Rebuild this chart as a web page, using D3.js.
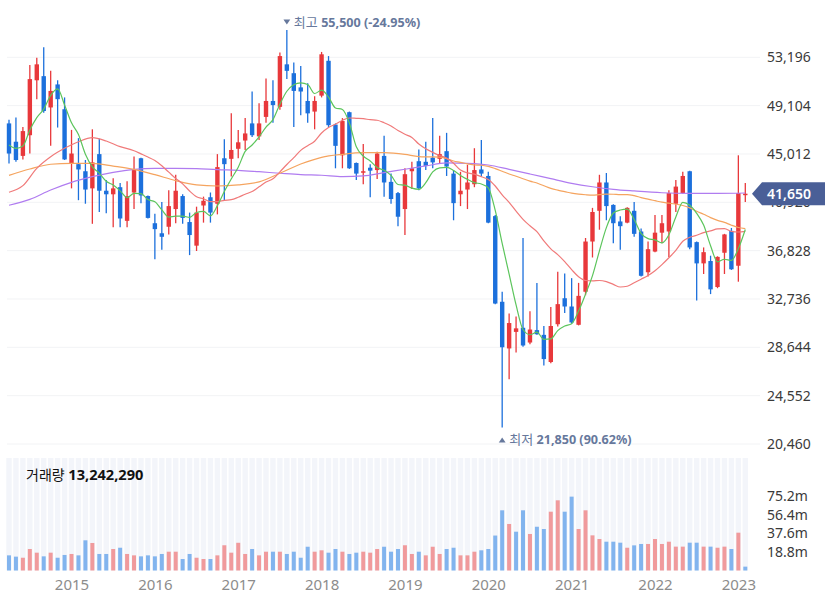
<!DOCTYPE html>
<html><head><meta charset="utf-8">
<script src="https://cdn.jsdelivr.net/npm/d3@7"></script>
<style>
html,body{margin:0;padding:0;background:#fff;}
svg{display:block;font-family:'Noto Sans','Noto Sans CJK KR',sans-serif;}
</style></head><body>
<svg id="chart" width="825" height="603"></svg>
<script>
// ---- categories: monthly candles, Apr 2014 .. Feb 2023
const months = d3.timeMonths(new Date(2014,3,1), new Date(2023,2,1));
// ---- OHLC (KRW)
const open  = [47600,46050,44850,46600,51250,51600,48950,50900,48800,44200,44150,43550,42100,45000,41900,41600,42200,39350,41750,44650,41450,39150,38300,38850,40350,41450,39250,37250,40650,41350,40800,44650,44600,45450,46150,47600,46500,48150,49500,49000,52600,51850,50650,49500,48600,49950,52900,47500,44900,48550,44250,43500,43850,43650,44850,42650,41700,40350,43550,44400,44350,44700,44600,45250,43350,41600,42000,42450,43700,43150,39750,32500,28550,29950,30300,29050,30100,29700,27400,30600,32800,32100,30550,33350,37600,40200,42600,40700,39300,39200,40200,38450,35000,36750,38350,38450,40800,41700,43550,37550,35750,35950,33750,36650,38500,35550,41550];
const high  = [47900,48100,47300,52550,53150,54050,52050,51250,49800,47050,46350,44500,47100,46300,42800,42950,42550,42700,44800,44700,41500,39950,40950,41950,43250,41600,40050,40550,41400,41750,45000,46250,48450,47050,48050,50300,49300,51400,51250,53600,55500,52750,52450,51000,49900,53650,53300,47600,48050,48600,44300,45850,44150,45200,46550,43350,41800,43800,44350,45400,46050,48050,46550,46800,43650,43500,44100,45500,46200,43500,39850,33350,31500,31250,37900,31700,34100,30450,32050,35050,34900,34500,34100,37900,40450,43250,43400,40750,39750,40500,40950,38700,37600,39850,39850,41950,42800,43500,43600,37600,37100,36400,36350,38250,38750,44900,42550];
const low   = [44200,44350,44550,45050,49650,48500,45700,47250,44500,42100,41100,40800,39100,40100,40000,38800,38800,38800,40350,40850,39550,36100,36900,38200,39150,39100,36450,36800,39200,39200,39900,41050,43100,44650,45350,46450,46200,47650,47650,48750,51350,47300,48300,47650,47100,49800,47300,43800,43800,43750,42800,42450,41350,42900,41400,40800,38900,38150,42050,41950,43650,43800,44200,43150,39400,40600,40350,42200,43100,39150,32300,21850,25950,28200,28700,28900,29700,27100,27300,30400,31550,30650,30500,33050,36250,38600,39400,37450,36900,39150,38000,34650,34650,36700,37450,36300,40100,41650,36950,32600,34850,33150,33650,34850,35200,34200,40950];
const close = [45050,44500,46950,51350,52600,48650,50350,49650,44550,45050,43700,42000,44300,41900,41600,42100,39550,41450,43650,41500,39600,38650,38000,40600,41900,39600,38150,40050,41050,40050,43900,44150,45350,46000,46750,46600,47600,49500,49150,53300,52050,50350,50300,48450,49500,53450,47450,45700,47800,43800,43350,43550,43600,45050,42600,41200,39700,43300,43800,42100,44000,44300,45000,43950,40850,41900,42600,43650,43350,39200,32350,28650,30700,30250,28800,30150,29750,27650,30450,32300,32100,30750,33000,37600,40100,42600,40600,39150,38900,40450,38250,34700,36950,38350,39150,41700,42250,43150,37100,35750,36700,33550,36300,38200,35250,41700,41650];
// ---- monthly volume (millions of shares)
const volume = [15.3,14.0,12.9,21.7,18.0,14.3,18.0,12.9,15.7,16.7,15.3,30.5,27.8,16.7,16.7,21.7,23.0,16.7,15.3,14.3,15.3,14.3,16.7,19.0,19.0,11.6,16.7,12.9,11.6,11.6,15.3,25.5,18.0,28.0,16.7,21.7,15.3,19.0,19.0,19.0,16.7,19.0,12.9,24.0,19.0,20.4,18.0,21.7,19.0,16.7,18.0,19.0,18.0,21.7,24.0,19.0,21.7,25.5,16.7,19.0,15.3,24.0,16.7,21.7,23.0,15.3,15.3,19.0,20.4,21.7,35.3,60.8,47.0,39.2,60.8,36.9,44.2,41.9,59.4,70.9,59.4,74.6,41.9,60.8,35.5,31.8,29.1,29.1,28.1,23.0,25.4,26.8,26.8,31.8,26.8,29.1,24.1,24.1,28.1,28.1,24.1,24.1,23.0,24.1,21.7,38.2,3.9];
// ---- moving-average values before enough history is in view: [index, value]
const ma5Head  = [[0,45770],[1,45490],[2,45690],[3,47040]];
const ma20Head = [[0,41770],[2,42330],[4,43800],[6,44780],[8,45490],[10,46050],[12,46390],[14,46110],[16,45630],[18,45290]];
const ma60Head = [[0,43200],[3,43740],[6,44140],[9,44220],[12,44220],[15,43990],[18,43710],[21,43260],[24,42750],[27,42390],[30,42300],[33,42390],[36,42650],[39,43380],[42,44160],[45,44730],[48,44980],[51,45120],[54,45120],[57,44980]];
const ma120Read = [[0,40670],[3,41170],[6,41960],[9,42610],[12,43090],[15,43460],[18,43710],[21,43800],[24,43800],[27,43770],[30,43680],[33,43630],[36,43510],[39,43380],[42,43260],[45,43210],[48,43090],[51,43150],[54,43430],[57,43720],[60,44000],[63,44260],[66,44220],[69,44080],[72,43710],[75,43320],[78,42920],[81,42530],[84,42240],[87,42020],[90,41880],[94,41730],[98,41680],[102,41680],[106,41710]];
// ---- tick labels
const priceTicks = [20460,24552,28644,32736,36828,40920,45012,49104,53196];
const volTicks = [18.8,37.6,56.4,75.2];
const yearTicks = [2015,2016,2017,2018,2019,2020,2021,2022,2023];
const lastPrice = 41650, highPrice = 55500, lowPrice = 21850;
const highText = ['최고','55,500 (-24.95%)'];
const lowText = ['최저','21,850 (90.62%)'];
const volText = ['거래량','13,242,290'];

const n = close.length;
const svg = d3.select('#chart');
const x = d3.scaleLinear().domain([0, n-1]).range([9, 745.3]);
const y = d3.scaleLinear().domain([20460, 53196]).range([444, 57.3]);
const yv = d3.scaleLinear().domain([0, 75.2]).range([570.5, 496.05]);

const UP='#e8383b', DOWN='#1c70dc', VUP='#f09a9c', VDOWN='#82b4ee';

// gridlines
svg.append('g').selectAll('line').data(priceTicks).join('line')
  .attr('x1',7).attr('x2',760).attr('y1',d=>y(d)).attr('y2',d=>y(d))
  .attr('stroke','#f2f3f5').attr('stroke-width',1);

// volume stripes
svg.append('g').selectAll('rect').data(d3.range(n)).join('rect')
  .attr('x',i=>x(i)-2.7).attr('width',5.4).attr('y',458).attr('height',yv(0)-458)
  .attr('fill','#f3f5fa');

// volume bars (colour: close vs previous close)
svg.append('g').selectAll('rect').data(d3.range(n)).join('rect')
  .attr('x',i=>x(i)-2).attr('width',4)
  .attr('y',i=>yv(volume[i])).attr('height',i=>yv(0)-yv(volume[i]))
  .attr('fill',i=>{const up = i===0 ? close[i]>=open[i] : close[i]>=close[i-1]; return up?VUP:VDOWN;});

// candles
const cg = svg.append('g');
cg.selectAll('line').data(d3.range(n)).join('line')
  .attr('x1',i=>x(i)).attr('x2',i=>x(i)).attr('y1',i=>y(high[i])).attr('y2',i=>y(low[i]))
  .attr('stroke',i=>close[i]>=open[i]?UP:DOWN).attr('stroke-width',1.3);
cg.selectAll('rect').data(d3.range(n)).join('rect')
  .attr('x',i=>x(i)-2.2).attr('width',4.4)
  .attr('y',i=>y(Math.max(open[i],close[i])))
  .attr('height',i=>Math.max(1.5, Math.abs(y(open[i])-y(close[i]))))
  .attr('fill',i=>close[i]>=open[i]?UP:DOWN);

// moving averages
function ma(head, p){
  const pts = head.slice();
  for(let i=p-1;i<n;i++){ pts.push([i, d3.mean(close.slice(i-p+1,i+1))]); }
  return pts;
}
const lines = [
  {pts: ma120Read, c:'#b07cf0'},
  {pts: ma(ma60Head,60), c:'#f5a45f'},
  {pts: ma(ma20Head,20), c:'#f07a7a'},
  {pts: ma(ma5Head,5), c:'#5cc55c'}
];
const lineGen = d3.line().x(d=>x(d[0])).y(d=>y(d[1])).curve(d3.curveMonotoneX);
svg.append('g').selectAll('path').data(lines).join('path')
  .attr('d',d=>lineGen(d.pts)).attr('fill','none').attr('stroke',d=>d.c).attr('stroke-width',1.2);

// price axis
const pa = svg.append('g').attr('transform','translate(767,0)')
  .call(d3.axisRight(y).tickValues(priceTicks).tickFormat(d3.format(',')).tickSize(0).tickPadding(0));
pa.select('.domain').remove();
pa.selectAll('text').attr('font-size',14).attr('fill','#3a3a3a').attr('font-family',"'Noto Sans',sans-serif");

// volume axis
const va = svg.append('g').attr('transform','translate(767,0)')
  .call(d3.axisRight(yv).tickValues(volTicks).tickFormat(d=>d+'m').tickSize(0).tickPadding(0));
va.select('.domain').remove();
va.selectAll('text').attr('font-size',14).attr('fill','#3a3a3a').attr('font-family',"'Noto Sans',sans-serif");

// x axis (January of each year)
const janIdx = yearTicks.map(yr=>months.findIndex(m=>m.getFullYear()===yr && m.getMonth()===0));
const xa = svg.append('g').attr('transform','translate(0,579)')
  .call(d3.axisBottom(x).tickValues(janIdx).tickFormat((d,i)=>yearTicks[i]).tickSize(0).tickPadding(0));
xa.select('.domain').remove();
xa.selectAll('text').attr('font-size',15).attr('fill','#8c8c8c').attr('font-family',"'Noto Sans',sans-serif");

// current price badge
const yl = y(lastPrice);
svg.append('path')
  .attr('d',`M752,${yl} L762,${yl-11.5} L825,${yl-11.5} L825,${yl+11.5} L762,${yl+11.5} Z`)
  .attr('fill','#4a5f97');
svg.append('text').attr('x',767).attr('y',yl).attr('dy','0.35em')
  .attr('font-size',14).attr('fill','#fff').attr('font-weight',600)
  .text(d3.format(',')(lastPrice));

// high / low annotations
const ANN = '#66789c';
const iHigh = high.indexOf(highPrice), iLow = low.indexOf(lowPrice);
function annotate(cx, base, down, txt){
  const tri = down ? `M${cx-3.4},${base-7} L${cx+3.4},${base-7} L${cx},${base-2} Z`
                   : `M${cx-3.4},${base-1} L${cx+3.4},${base-1} L${cx},${base-6} Z`;
  svg.append('path').attr('d',tri).attr('fill',ANN);
  const t = svg.append('text').attr('x',cx+7).attr('y',base).attr('fill',ANN);
  t.append('tspan').attr('font-size',13).text(txt[0]+' ');
  t.append('tspan').attr('font-size',12.6).attr('font-weight','bold').text(txt[1]);
}
annotate(x(iHigh), y(highPrice)-3.5, true, highText);
annotate(x(iLow), y(lowPrice)+16, false, lowText);

// volume caption
const vt = svg.append('text').attr('x',26).attr('y',480).attr('fill','#111');
vt.append('tspan').attr('font-size',14).text(volText[0]+' ');
vt.append('tspan').attr('font-size',14.6).attr('font-weight','bold').text(volText[1]);
</script>
</body></html>
